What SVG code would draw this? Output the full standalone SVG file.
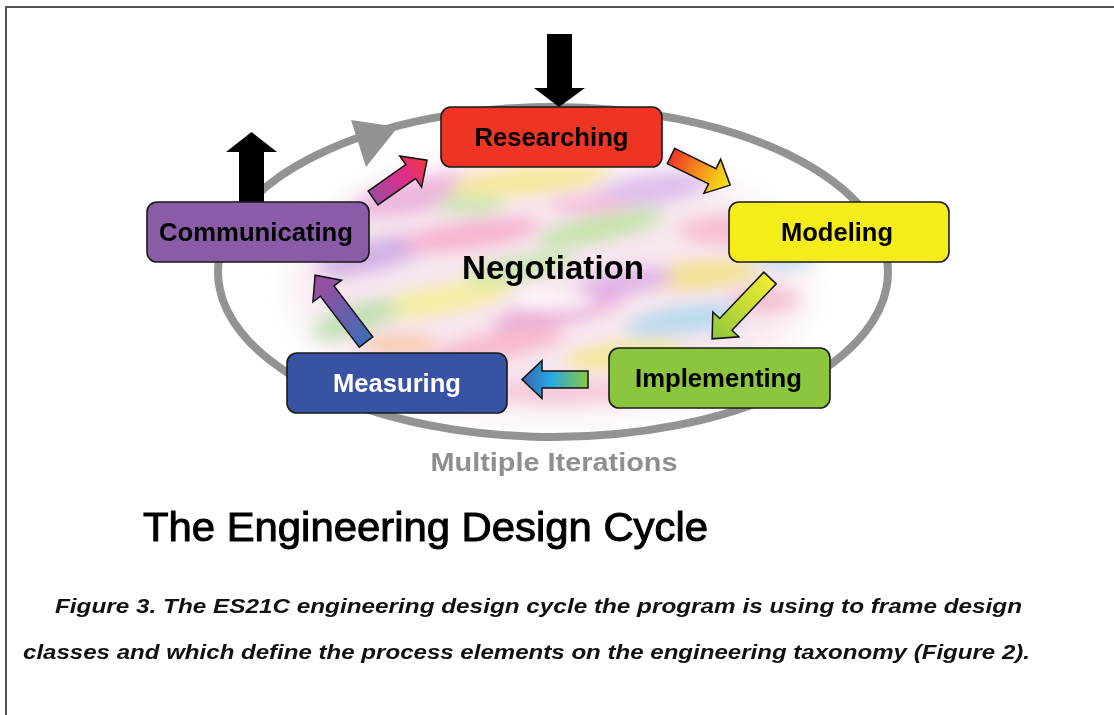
<svg xmlns="http://www.w3.org/2000/svg" width="1114" height="715" viewBox="0 0 1114 715">
<defs>
<style>
.box{stroke:#1a1a1a;stroke-width:1.6}
.lbl{font-family:"Liberation Sans",Arial,Helvetica,sans-serif;font-weight:bold;font-size:25px;text-anchor:middle;fill:#000}
.garrow{stroke:#111;stroke-width:1.5;stroke-linejoin:miter}
.cap{font-family:"Liberation Sans",Arial,Helvetica,sans-serif;font-weight:bold;font-style:italic;font-size:21px;fill:#111}
</style>
<filter id="blur" x="-30%" y="-30%" width="160%" height="160%"><feGaussianBlur stdDeviation="8"/></filter>
<filter id="blur2" x="-30%" y="-30%" width="160%" height="160%"><feGaussianBlur stdDeviation="20"/></filter>
<linearGradient id="g1" x1="0" y1="0" x2="1" y2="0"><stop offset="0" stop-color="#9B4DA0"/><stop offset="0.6" stop-color="#E02C86"/><stop offset="1" stop-color="#EE3B3B"/></linearGradient>
<linearGradient id="g2" x1="0" y1="0" x2="1" y2="0"><stop offset="0" stop-color="#EE3524"/><stop offset="0.5" stop-color="#F7941D"/><stop offset="1" stop-color="#F5EC1A"/></linearGradient>
<linearGradient id="g3" x1="0" y1="0" x2="1" y2="0"><stop offset="0" stop-color="#F2EC30"/><stop offset="1" stop-color="#8CC63F"/></linearGradient>
<linearGradient id="g4" x1="0" y1="0" x2="1" y2="0"><stop offset="0" stop-color="#8CC63F"/><stop offset="0.55" stop-color="#27AAE1"/><stop offset="1" stop-color="#3B63AE"/></linearGradient>
<linearGradient id="g5" x1="0" y1="0" x2="1" y2="0"><stop offset="0" stop-color="#3E6DB5"/><stop offset="1" stop-color="#A24B9D"/></linearGradient>
<path id="a66" d="M0,-8.5 H46 V-19 L66,0 L46,19 V8.5 H0 Z"/>
<path id="a84" d="M0,-8.5 H64 V-18 L84,0 L64,18 V8.5 H0 Z"/>
</defs>
<rect width="1114" height="715" fill="#ffffff"/>
<g id="frame" stroke="#555" stroke-width="2" fill="none">
<path d="M6,715 V7 H1114"/>
</g>
<g id="cloud">
<ellipse cx="550" cy="285" rx="255" ry="128" fill="#f8e6f0" filter="url(#blur2)"/>
<g filter="url(#blur)" opacity="0.8">
<ellipse cx="420" cy="195" rx="70" ry="16" fill="#e8a8d8" transform="rotate(-12 420 195)"/>
<ellipse cx="530" cy="180" rx="80" ry="15" fill="#f5e98a" transform="rotate(-6 530 180)"/>
<ellipse cx="650" cy="190" rx="65" ry="15" fill="#d6b4ea" transform="rotate(-10 650 190)"/>
<ellipse cx="730" cy="230" rx="50" ry="14" fill="#f7b3c8"/>
<ellipse cx="375" cy="255" rx="60" ry="15" fill="#c8a5e3" transform="rotate(-15 375 255)"/>
<ellipse cx="470" cy="235" rx="70" ry="14" fill="#f5a7c9" transform="rotate(-8 470 235)"/>
<ellipse cx="600" cy="228" rx="65" ry="13" fill="#b8e39a" transform="rotate(-12 600 228)"/>
<ellipse cx="700" cy="275" rx="60" ry="14" fill="#f2e07c" transform="rotate(-5 700 275)"/>
<ellipse cx="440" cy="300" rx="75" ry="14" fill="#f4ef8e" transform="rotate(-10 440 300)"/>
<ellipse cx="560" cy="310" rx="70" ry="14" fill="#e6a3d6" transform="rotate(-14 560 310)"/>
<ellipse cx="685" cy="320" rx="60" ry="14" fill="#a9d8ee" transform="rotate(-8 685 320)"/>
<ellipse cx="355" cy="320" rx="45" ry="14" fill="#b3e0a2" transform="rotate(-18 355 320)"/>
<ellipse cx="500" cy="345" rx="65" ry="13" fill="#f6b0c0" transform="rotate(-10 500 345)"/>
<ellipse cx="625" cy="355" rx="60" ry="13" fill="#f2ea80" transform="rotate(-6 625 355)"/>
<ellipse cx="430" cy="372" rx="55" ry="12" fill="#d3b0ea"/>
<ellipse cx="560" cy="392" rx="75" ry="12" fill="#f4c0d6"/>
<ellipse cx="705" cy="385" rx="45" ry="12" fill="#c3e8a6"/>
<ellipse cx="520" cy="268" rx="55" ry="12" fill="#bfe6a0" transform="rotate(-10 520 268)"/>
<ellipse cx="625" cy="282" rx="50" ry="12" fill="#d9a8e4" transform="rotate(-8 625 282)"/>
<ellipse cx="330" cy="228" rx="35" ry="12" fill="#f6e78a"/>
<ellipse cx="765" cy="300" rx="35" ry="12" fill="#f2b6cc"/>
<ellipse cx="785" cy="258" rx="28" ry="11" fill="#b6dcef"/>
<ellipse cx="400" cy="345" rx="40" ry="11" fill="#f7c6a6"/>
<ellipse cx="590" cy="205" rx="40" ry="10" fill="#f3b8d8"/>
<ellipse cx="470" cy="205" rx="35" ry="10" fill="#c2e6a8"/>
</g>
<ellipse cx="555" cy="300" rx="40" ry="12" fill="#ffffff" filter="url(#blur)" opacity="0.8"/>
</g>
<g id="cycle-ring">
<ellipse cx="553" cy="272" rx="335" ry="165" fill="none" stroke="#939393" stroke-width="8"/>
<polygon points="351,120 366,167 398,127" fill="#939393"/>
</g>
<g id="connectors">
<use href="#a66" class="garrow" fill="url(#g1)" transform="translate(373,198) rotate(-35)"/>
<use href="#a66" class="garrow" fill="url(#g2)" transform="translate(671,156) rotate(26.2)"/>
<use href="#a84" class="garrow" fill="url(#g3)" transform="translate(770,278) rotate(133.6)"/>
<use href="#a66" class="garrow" fill="url(#g4)" transform="translate(588,379.5) rotate(180)"/>
<use href="#a84" class="garrow" fill="url(#g5)" transform="translate(366,342) rotate(-127.3)"/>
<polygon id="input-arrow" points="547,34 572,34 572,88 585,88 559,107 534,88 547,88" fill="#000"/>
<polygon id="output-arrow" points="239,202 264,202 264,152 277,152 251.5,132 226,152 239,152" fill="#000"/>
</g>
<g id="node-researching">
<rect class="box" x="441" y="107" width="221" height="60" rx="10" fill="#EE3524"/>
<text class="lbl" x="551.5" y="146" textLength="154" lengthAdjust="spacingAndGlyphs">Researching</text>
</g>
<g id="node-modeling">
<rect class="box" x="729" y="202" width="220" height="60" rx="10" fill="#F5EC1A"/>
<text class="lbl" x="837" y="241" textLength="112" lengthAdjust="spacingAndGlyphs">Modeling</text>
</g>
<g id="node-implementing">
<rect class="box" x="609" y="348" width="221" height="60" rx="10" fill="#8CC63F"/>
<text class="lbl" x="718.5" y="387" textLength="167" lengthAdjust="spacingAndGlyphs">Implementing</text>
</g>
<g id="node-measuring">
<rect class="box" x="287" y="353" width="220" height="60" rx="10" fill="#3953A4"/>
<text class="lbl" x="397" y="392" textLength="128" lengthAdjust="spacingAndGlyphs" style="fill:#fff">Measuring</text>
</g>
<g id="node-communicating">
<rect class="box" x="147" y="202" width="222" height="60" rx="10" fill="#8A5CA8"/>
<text class="lbl" x="256" y="241" textLength="194" lengthAdjust="spacingAndGlyphs">Communicating</text>
</g>
<g id="labels">
<text x="553" y="279" font-family="'Liberation Sans',Arial,Helvetica,sans-serif" font-weight="bold" font-size="33" text-anchor="middle" fill="#000" textLength="182" lengthAdjust="spacingAndGlyphs">Negotiation</text>
<text x="554" y="471" font-family="'Liberation Sans',Arial,Helvetica,sans-serif" font-weight="bold" font-size="25" text-anchor="middle" fill="#8f8f8f" textLength="247" lengthAdjust="spacingAndGlyphs">Multiple Iterations</text>
<text x="143" y="541" font-family="'Liberation Sans',Arial,Helvetica,sans-serif" font-size="41" fill="#000" stroke="#000" stroke-width="1" textLength="565" lengthAdjust="spacingAndGlyphs">The Engineering Design Cycle</text>
<text class="cap" x="55" y="613" textLength="967" lengthAdjust="spacingAndGlyphs">Figure 3. The ES21C engineering design cycle the program is using to frame design</text>
<text class="cap" x="23" y="659" textLength="1007" lengthAdjust="spacingAndGlyphs">classes and which define the process elements on the engineering taxonomy (Figure 2).</text>
</g>
</svg>
